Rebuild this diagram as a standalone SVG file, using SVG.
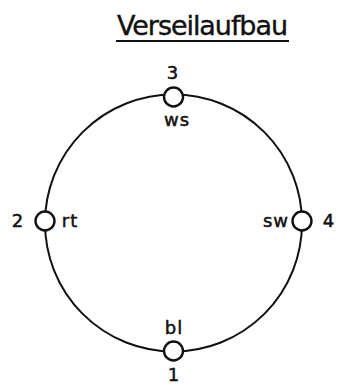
<svg xmlns="http://www.w3.org/2000/svg" width="338" height="389" viewBox="0 0 338 389">
<style>
.ring{fill:none;stroke:#111;stroke-width:2}
.node{fill:#fff;stroke:#111;stroke-width:2.4}
.t{font-family:"DejaVu Sans","Liberation Sans",sans-serif;font-size:18px;fill:#111;stroke:#111;stroke-width:0.5;letter-spacing:1px}
.title{font-family:"DejaVu Sans","Liberation Sans",sans-serif;font-size:27px;fill:#111;stroke:#111;stroke-width:0.4}
</style>
<rect width="338" height="389" fill="#fff"/>
<text class="title" x="117" y="35" textLength="171" lengthAdjust="spacing">Verseilaufbau</text>
<line x1="116" y1="41" x2="289" y2="41" stroke="#111" stroke-width="2"/>
<g id="connectors">
<circle class="ring" cx="173.5" cy="223" r="128.5"/>
</g>
<g id="node3">
<circle class="node" cx="173.5" cy="97" r="9.5"/>
<text class="t" x="173" y="79" text-anchor="middle">3</text>
<text class="t" x="177" y="126" text-anchor="middle">ws</text>
</g>
<g id="node2">
<circle class="node" cx="45" cy="221" r="9.5"/>
<text class="t" x="18" y="227" text-anchor="middle">2</text>
<text class="t" x="70" y="227" text-anchor="middle">rt</text>
</g>
<g id="node4">
<circle class="node" cx="302" cy="221" r="9.5"/>
<text class="t" x="276" y="227" text-anchor="middle">sw</text>
<text class="t" x="329" y="227" text-anchor="middle">4</text>
</g>
<g id="node1">
<circle class="node" cx="173.5" cy="351" r="9.5"/>
<text class="t" x="174" y="334" text-anchor="middle">bl</text>
<text class="t" x="174" y="381" text-anchor="middle">1</text>
</g>
</svg>
